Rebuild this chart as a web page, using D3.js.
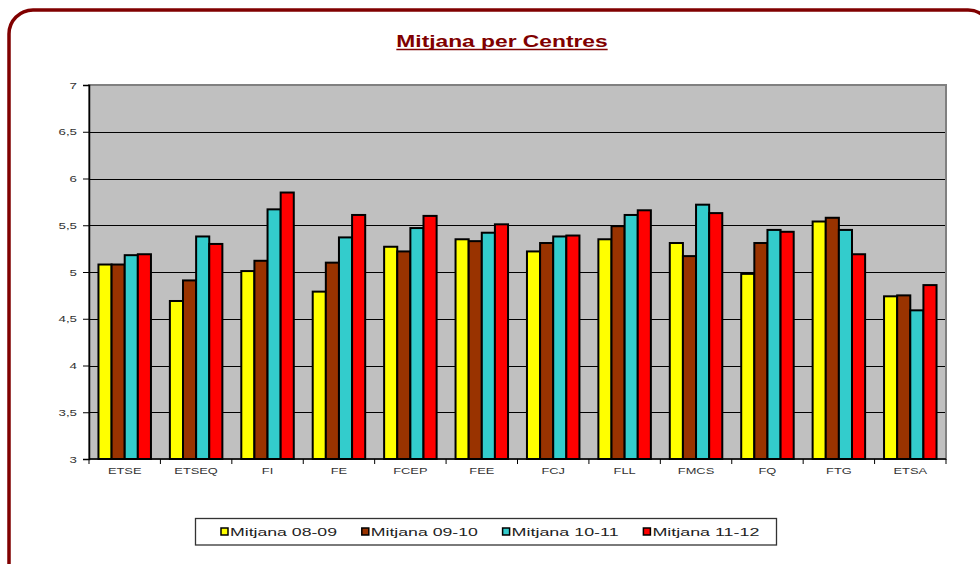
<!DOCTYPE html>
<html>
<head>
<meta charset="utf-8">
<script src="https://cdn.jsdelivr.net/npm/d3@7"></script>
<style>
  body { margin: 0; background: #fff; }
  text { font-family: "Liberation Sans", Arial, sans-serif; }
</style>
</head>
<body>
<div id="chart"></div>
<script>
// data
const centres = ["ETSE", "ETSEQ", "FI", "FE", "FCEP", "FEE", "FCJ", "FLL", "FMCS", "FQ", "FTG", "ETSA"];
const seriesNames = ["Mitjana 08-09", "Mitjana 09-10", "Mitjana 10-11", "Mitjana 11-12"];
const mitjana0809 = [5.08, 4.69, 5.01, 4.79, 5.27, 5.35, 5.22, 5.35, 5.31, 4.98, 5.54, 4.74];
const mitjana0910 = [5.08, 4.91, 5.12, 5.10, 5.22, 5.33, 5.31, 5.49, 5.17, 5.31, 5.58, 4.75];
const mitjana1011 = [5.18, 5.38, 5.67, 5.37, 5.47, 5.42, 5.38, 5.61, 5.72, 5.45, 5.45, 4.59];
const mitjana1112 = [5.19, 5.30, 5.85, 5.61, 5.60, 5.51, 5.39, 5.66, 5.63, 5.43, 5.19, 4.86];
const yTicks = [3, 3.5, 4, 4.5, 5, 5.5, 6, 6.5, 7];
const seriesColors = ["#ffff00", "#993300", "#33cccc", "#ff0000"];

const allSeries = [mitjana0809, mitjana0910, mitjana1011, mitjana1112];

const width = 980, height = 564;
const plot = { left: 89, right: 946, top: 85, bottom: 459 };

const svg = d3.select('#chart')
  .append('svg')
  .attr('width', width)
  .attr('height', height);

// the reference is stretched sideways, so widen every text the same way
function stretch(sel, k) {
  sel.each(function() {
    const len = this.getComputedTextLength();
    d3.select(this).attr('textLength', len * k).attr('lengthAdjust', 'spacingAndGlyphs');
  });
}

// outer rounded frame
svg.append('rect')
  .attr('x', 9).attr('y', 10)
  .attr('width', 983).attr('height', 580)
  .attr('rx', 24).attr('ry', 24)
  .attr('fill', 'none')
  .attr('stroke', '#800000')
  .attr('stroke-width', 3.5);

// title
const title = svg.append('text')
  .attr('x', 502).attr('y', 47)
  .attr('text-anchor', 'middle')
  .attr('font-size', 16.5)
  .attr('font-weight', 'bold')
  .attr('fill', '#800000')
  .text('Mitjana per Centres');
stretch(title, 1.38);
const tb = title.node().getBBox();
svg.append('line')
  .attr('x1', tb.x).attr('x2', tb.x + tb.width)
  .attr('y1', 49.5).attr('y2', 49.5)
  .attr('stroke', '#800000').attr('stroke-width', 1.5);

const x0 = d3.scaleBand()
  .domain(centres)
  .range([plot.left, plot.right])
  .padding(0);

const groupFrac = 0.735;
const x1 = d3.scaleBand()
  .domain(d3.range(seriesNames.length))
  .range([0, x0.bandwidth() * groupFrac])
  .padding(0);

const y = d3.scaleLinear()
  .domain([3, 7])
  .range([plot.bottom, plot.top]);

// plot background
svg.append('rect')
  .attr('x', plot.left).attr('y', plot.top)
  .attr('width', plot.right - plot.left)
  .attr('height', plot.bottom - plot.top)
  .attr('fill', '#c0c0c0')
  .attr('stroke', '#808080')
  .attr('stroke-width', 2);

// grid lines
svg.append('g')
  .selectAll('line')
  .data(yTicks.filter(d => d > 3 && d < 7))
  .enter()
  .append('line')
  .attr('x1', plot.left).attr('x2', plot.right - 1)
  .attr('y1', d => Math.round(y(d)) + 0.5)
  .attr('y2', d => Math.round(y(d)) + 0.5)
  .attr('stroke', '#000')
  .attr('stroke-width', 1);

// y axis
const yAxis = svg.append('g')
  .attr('transform', 'translate(' + plot.left + ',0)')
  .call(d3.axisLeft(y).tickValues(yTicks).tickSize(6).tickPadding(6)
    .tickFormat(d => String(d).replace('.', ',')));
yAxis.select('.domain').attr('stroke', '#000').attr('stroke-width', 1.5);
yAxis.selectAll('.tick line').attr('stroke', '#000');
yAxis.selectAll('.tick text')
  .attr('font-size', 9.5)
  .attr('fill', '#333')
  .attr('font-family', '"Liberation Sans", Arial, sans-serif');
stretch(yAxis.selectAll('.tick text'), 1.4);

// bars
const groups = svg.append('g')
  .selectAll('g')
  .data(centres)
  .enter()
  .append('g')
  .attr('transform', d => 'translate(' + (x0(d) + x0.bandwidth() * (1 - groupFrac) / 2) + ',0)');

groups.selectAll('rect')
  .data((d, i) => allSeries.map((s, j) => ({ s: j, v: s[i] })))
  .enter()
  .append('rect')
  .attr('x', d => x1(d.s))
  .attr('y', d => y(d.v))
  .attr('width', x1.bandwidth())
  .attr('height', d => y(3) - y(d.v))
  .attr('fill', d => seriesColors[d.s])
  .attr('stroke', '#000')
  .attr('stroke-width', 2);

// x axis
svg.append('line')
  .attr('x1', plot.left).attr('x2', plot.right)
  .attr('y1', plot.bottom).attr('y2', plot.bottom)
  .attr('stroke', '#000').attr('stroke-width', 1.5);

svg.append('g')
  .selectAll('line')
  .data(centres.concat(['end']))
  .enter()
  .append('line')
  .attr('x1', (d, i) => plot.left + i * x0.bandwidth())
  .attr('x2', (d, i) => plot.left + i * x0.bandwidth())
  .attr('y1', plot.bottom).attr('y2', plot.bottom + 5)
  .attr('stroke', '#000');

const xLabels = svg.append('g')
  .selectAll('text')
  .data(centres)
  .enter()
  .append('text')
  .attr('x', d => x0(d) + x0.bandwidth() / 2)
  .attr('y', 474)
  .attr('text-anchor', 'middle')
  .attr('font-size', 9.5)
  .attr('fill', '#333')
  .text(d => d);
stretch(xLabels, 1.35);

// legend
const legend = svg.append('g');
legend.append('rect')
  .attr('x', 195.5).attr('y', 518.5)
  .attr('width', 581).attr('height', 26.5)
  .attr('fill', '#fff')
  .attr('stroke', '#333')
  .attr('stroke-width', 1.3);

const item = legend.selectAll('.legend')
  .data(seriesNames)
  .enter()
  .append('g')
  .attr('class', 'legend')
  .attr('transform', (d, i) => 'translate(' + (221 + i * 140.8) + ',528)');

item.append('rect')
  .attr('width', 7).attr('height', 7)
  .attr('fill', (d, i) => seriesColors[i])
  .attr('stroke', '#000')
  .attr('stroke-width', 1.5);

const legendText = item.append('text')
  .attr('x', 9).attr('y', 8)
  .attr('font-size', 11)
  .attr('fill', '#222')
  .text(d => d);
legendText.attr('textLength', 107).attr('lengthAdjust', 'spacingAndGlyphs');
</script>
</body>
</html>
